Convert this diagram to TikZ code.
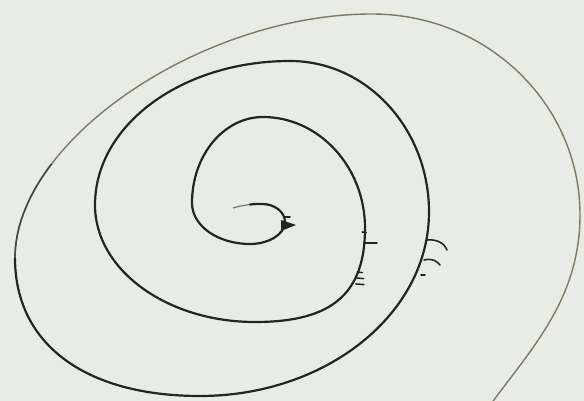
\documentclass[tikz,border=0pt]{standalone}
\usepackage{tikz}
\definecolor{Paper}{HTML}{E9EBE5}
\definecolor{Ink}{HTML}{22261C}
\definecolor{Faded}{HTML}{7A7C62}

\begin{document}
\begin{tikzpicture}[x=0.02cm,y=-0.02cm,
    coil/.style={Ink,line width=1.25pt,line cap=round,line join=round},
    outercoil/.style={Faded,line width=0.8pt,line cap=round},
    barb/.style={Ink,line width=0.9pt,line cap=round}]
    \fill[Paper] (0,0) rectangle (584,401);
    \useasboundingbox (0,0) rectangle (584,401);

    % faint start of the curl
    \draw[Faded,line width=0.7pt] (233,208) .. controls (240,206) .. (250,204.5);
    % spiral, inner turns
    \draw[coil] (250,204.5) .. controls (254,204) .. (262,204)
      .. controls (274.7,204) and (285,212) .. (285,222)
      .. controls (285,234) and (269,244) .. (250,244)
      .. controls (218,244) and (192,226) .. (192,203)
      .. controls (192,155) and (224,117) .. (263,117)
      .. controls (319,117) and (365,167) .. (365,228)
      .. controls (365,294) and (332,322) .. (255,322)
      .. controls (167,322) and (95,270) .. (95,205)
      .. controls (95,125) and (182,61) .. (290,61)
      .. controls (367,61) and (429,129) .. (429,212)
      .. controls (429,314) and (326,396) .. (200,396)
      .. controls (85,396) and (15,344) .. (15,258);
    % spiral, outer turn
    \draw[outercoil] (15,258)
      .. controls (15,141) and (201,14) .. (372,14)
      .. controls (487,14) and (580,104) .. (580,215)
      .. controls (580,300) and (530,350) .. (488,408);
    \begin{scope}
      \clip (0,165) rectangle (120,300);
      \draw[Ink,opacity=0.6,line width=1pt] (15,258)
        .. controls (15,141) and (201,14) .. (372,14);
    \end{scope}

    % barbs on the curl
    \fill[Ink] (281,220) -- (296,225) -- (281,231) -- cycle;
    \draw[barb] (284,217) -- (290,217);
    % barbs on the first turn
    \draw[barb] (364,243) -- (377,243);
    \foreach \y/\l in {232/4,272/5,278/7,284/8}{
      \draw[barb] (362-0.12*\y+0.12*233,\y) -- ++(\l,0.6);}
    % hooks on the second turn
    \draw[barb] (427,240) .. controls (437,239) and (444,243) .. (447,250);
    \draw[barb] (424,260) .. controls (432,258) and (437,261) .. (440,265);
    \draw[barb] (421,275) -- (425,275);
  \end{tikzpicture}
\end{document}
